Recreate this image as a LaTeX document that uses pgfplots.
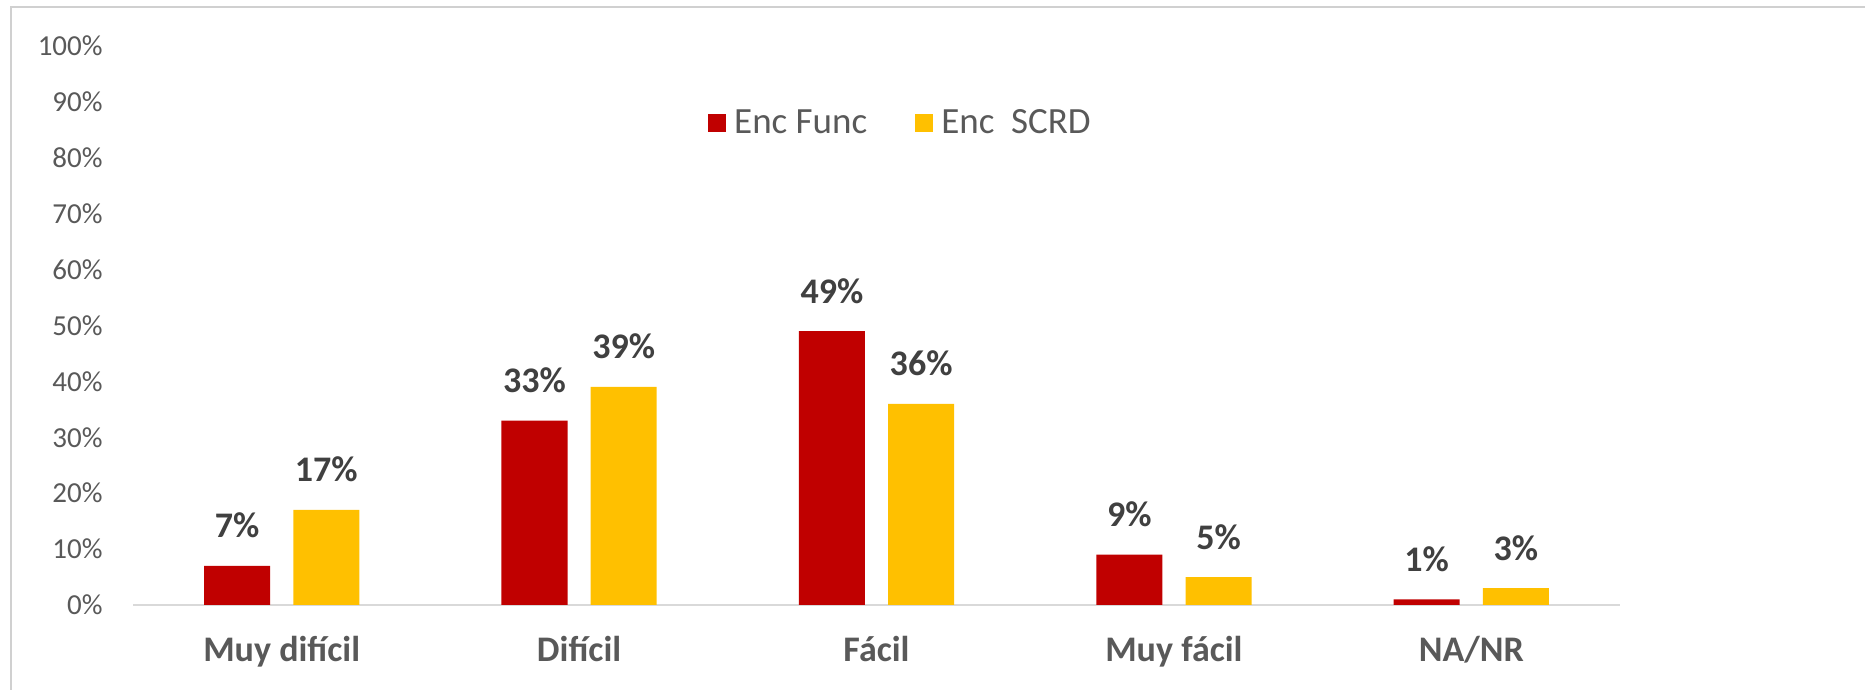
\documentclass[border=0pt]{standalone}
\usepackage{pgfplots}
\pgfplotsset{compat=1.18}
\usepackage{fontspec}
\setmainfont{Carlito}
\definecolor{cred}{HTML}{C00000}
\definecolor{cyel}{HTML}{FFC000}
\definecolor{txt}{HTML}{595959}
\definecolor{dtxt}{HTML}{404040}
\definecolor{frame}{HTML}{D0D0D0}
\definecolor{axl}{HTML}{D9D9D9}
\begin{document}
\begin{tikzpicture}
\useasboundingbox (0,0) rectangle (932.5pt,345pt);
\draw[frame, line width=1pt] (5.5pt,0) -- (5.5pt,341.5pt) -- (932.5pt,341.5pt);
\begin{axis}[
  at={(66.5pt,42.5pt)}, anchor=south west,
  scale only axis,
  width=743.5pt, height=279.5pt,
  ybar, bar width=0.222,
  xmin=-0.5, xmax=4.5, ymin=0, ymax=100,
  axis lines*=left,
  x axis line style={draw=axl, line width=1pt, -},
  y axis line style={draw=none},
  major tick length=0pt,
  /pgf/number format/assume math mode=true,
  xtick={0,1,2,3,4},
  xticklabels={Muy difícil, Difícil, Fácil, Muy fácil, NA/NR},
  xticklabel style={anchor=base, yshift=-28.5pt, inner sep=0pt, font=\fontsize{18}{20}\selectfont\bfseries, text=txt},
  ytick={0,10,...,100},
  yticklabels={0\%,10\%,20\%,30\%,40\%,50\%,60\%,70\%,80\%,90\%,100\%},
  yticklabel style={anchor=east, xshift=-15pt, inner sep=0pt, font=\fontsize{14.5}{16}\selectfont, text=txt},
  legend style={at={(0.5168,0.862)}, anchor=center, draw=none, fill=none,
    legend columns=2, font=\fontsize{18.5}{20}\selectfont, text=txt, inner sep=0pt,
    /tikz/every odd column/.append style={column sep=2pt},
    /tikz/every even column/.append style={column sep=22pt}},
  legend image code/.code={\fill[#1] (0pt,-4.5pt) rectangle (9pt,4.5pt);},
  nodes near coords={\pgfmathprintnumber{\pgfplotspointmeta}\%},
  every node near coord/.append style={anchor=base, yshift=14pt, inner sep=0pt, font=\fontsize{18}{20}\selectfont\bfseries, text=dtxt},
]
\addplot[bar shift=-0.15, fill=cred, draw=none] coordinates {(0,7) (1,33) (2,49) (3,9) (4,1)};
\addlegendentry{Enc Func}
\addplot[bar shift=0.15, fill=cyel, draw=none] coordinates {(0,17) (1,39) (2,36) (3,5) (4,3)};
\addlegendentry{Enc\ \ SCRD}
\end{axis}
\end{tikzpicture}
\end{document}
